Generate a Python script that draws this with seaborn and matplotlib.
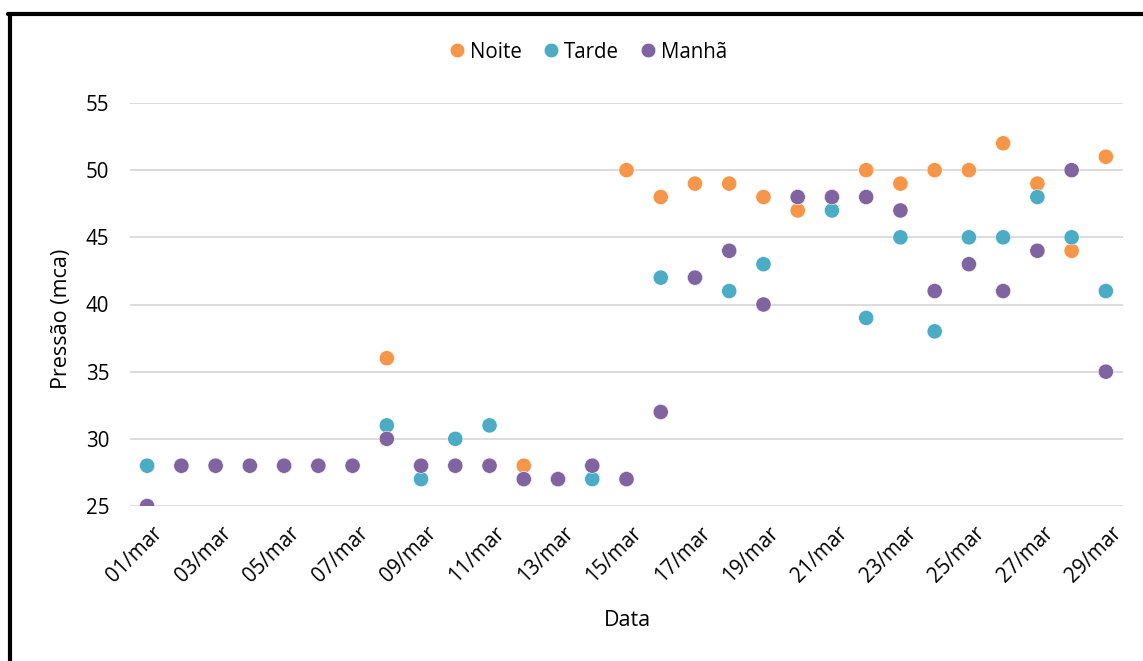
import matplotlib
matplotlib.use("Agg")
import matplotlib.pyplot as plt
from matplotlib.lines import Line2D
from matplotlib.transforms import ScaledTranslation
import seaborn as sns
import pandas as pd

# Daily pressure readings for March, three shifts
dias = list(range(1, 30))
noite = [28, 28, 28, 28, 28, 28, 28, 36, 28, 28, 28, 28, 27, 28, 50,
         48, 49, 49, 48, 47, 48, 50, 49, 50, 50, 52, 49, 44, 51]
tarde = [28, 28, 28, 28, 28, 28, 28, 31, 27, 30, 31, 27, 27, 27, 27,
         42, 42, 41, 43, 48, 47, 39, 45, 38, 45, 45, 48, 45, 41]
manha = [25, 28, 28, 28, 28, 28, 28, 30, 28, 28, 28, 27, 27, 28, 27,
         32, 42, 44, 40, 48, 48, 48, 47, 41, 43, 41, 44, 50, 35]
tick_dias = list(range(1, 30, 2))
tick_labels = [f"{d:02d}/mar" for d in tick_dias]

series = ["Noite", "Tarde", "Manhã"]
cores = ["#F79646", "#4BACC6", "#8064A2"]

df = pd.concat([
    pd.DataFrame({"Data": dias, "Pressão": noite, "Turno": "Noite"}),
    pd.DataFrame({"Data": dias, "Pressão": tarde, "Turno": "Tarde"}),
    pd.DataFrame({"Data": dias, "Pressão": manha, "Turno": "Manhã"}),
], ignore_index=True)

sns.set_theme(style="white")
plt.rcParams["font.family"] = ["Open Sans", "DejaVu Sans"]
plt.rcParams["text.color"] = "black"

W, H = 1143, 661
fig = plt.figure(figsize=(W / 100, H / 100), dpi=100)
ax = fig.add_axes([130 / W, 155 / H, 993 / W, 403 / H])

sns.scatterplot(data=df, x="Data", y="Pressão", hue="Turno",
                hue_order=series, palette=cores, s=120,
                edgecolor="white", linewidth=0.4, ax=ax, zorder=3)

ax.set_xlim(0.5, 29.5)
ax.set_ylim(25, 55)
ax.set_yticks(range(25, 56, 5))
ax.set_xticks(tick_dias)
ax.set_xticklabels(tick_labels, rotation=45, ha="right", va="top",
                   rotation_mode="anchor")
ax.tick_params(axis="both", labelsize=14.8, labelcolor="black", length=0)
ax.tick_params(axis="y", pad=15)
ax.tick_params(axis="x", pad=12)
shift = ScaledTranslation(0.05, 0, fig.dpi_scale_trans)
for lbl in ax.get_xticklabels():
    lbl.set_transform(lbl.get_transform() + shift)
ax.yaxis.grid(True, color="#D9D9D9", linewidth=1.3, zorder=0)
ax.xaxis.grid(False)
for sp in ax.spines.values():
    sp.set_visible(False)

ax.set_xlabel("")
ax.set_ylabel("")
fig.text(627 / W, 1 - 620 / H, "Data", ha="center", va="center",
         fontsize=15.5, color="black")
fig.text(62 / W, 1 - 319 / H, "Pressão (mca)", ha="center", va="center",
         rotation=90, fontsize=15.5, color="black")

handles = [Line2D([], [], marker="o", linestyle="", markersize=10.5,
                  markerfacecolor=c, markeredgecolor="white",
                  markeredgewidth=0.4) for c in cores]
ax.get_legend().remove()
leg = fig.legend(handles, series, loc="center",
                 bbox_to_anchor=(588 / W, 1 - 52 / H), ncol=3, frameon=False,
                 fontsize=14.8, handlelength=0.8, handletextpad=0.25,
                 columnspacing=1.0)
for t in leg.get_texts():
    t.set_color("black")

# Frame edges on the top and left of the figure
fig.add_artist(Line2D([8 / W, 1], [1 - 14 / H, 1 - 14 / H], color="black",
                      linewidth=3, transform=fig.transFigure))
fig.add_artist(Line2D([9.5 / W, 9.5 / W], [0, 1 - 14 / H], color="black",
                      linewidth=3, transform=fig.transFigure))

fig.savefig("out.png", dpi=100, facecolor="white")
